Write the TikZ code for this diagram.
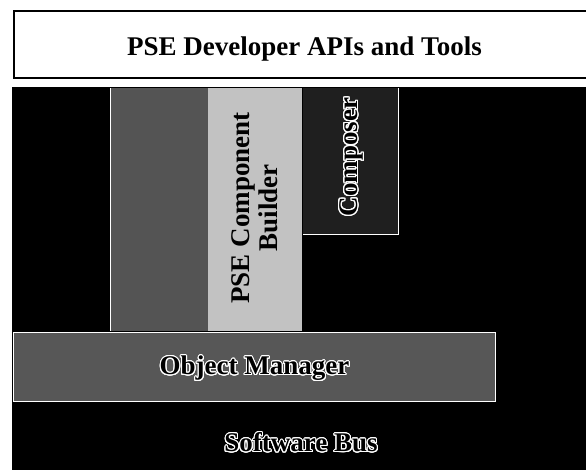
\documentclass[tikz,border=0pt]{standalone}
\usepackage{fontspec}
\setmainfont{Liberation Serif}
\usepackage{contour}
\contourlength{1.1pt}
\contournumber{24}
\begin{document}
\begin{tikzpicture}[x=1pt,y=-1pt,
  lbl/.style={font=\fontsize{27}{28}\selectfont\bfseries, inner sep=0pt, align=center},
  hollow/.style={lbl, text=black}
]
\useasboundingbox (0,0) rectangle (586,469);
\begin{scope}
\clip (0,0) rectangle (586,469);

% heading box
\draw[line width=1.6pt, fill=white] (14,11) rectangle (600,78);
\node[lbl] (title) at (304.5,49) {PSE Developer APIs and Tools};

% black base layer (software bus)
\fill[black] (12,87) rectangle (600,480);

% developer tool column
\fill[black!67] (110,88) rectangle (208,331);
\draw[white, line width=0.9pt] (110.5,88) -- (110.5,331);

% component builder column
\fill[black!24] (208,88) rectangle (302,331);
\node[lbl, rotate=90] (builder) at (255,208) {PSE Component\\Builder};

% composer block
\fill[black!88] (303,88) rectangle (399,234);
\draw[white, line width=0.9pt] (303,234) -- (398.5,234) -- (398.5,88);
\node[hollow, rotate=90] (composer) at (352,157) {\contour{white}{Composer}};

% object manager bar
\fill[black!66] (13,332) rectangle (495,401);
\draw[white, line width=1pt] (13,332) rectangle (495,401);
\node[hollow] (objmgr) at (254.5,369) {\contour{white}{Object Manager}};

% software bus label
\node[hollow] (bus) at (301,443) {\contour{white}{Software Bus}};
\end{scope}
\end{tikzpicture}
\end{document}
